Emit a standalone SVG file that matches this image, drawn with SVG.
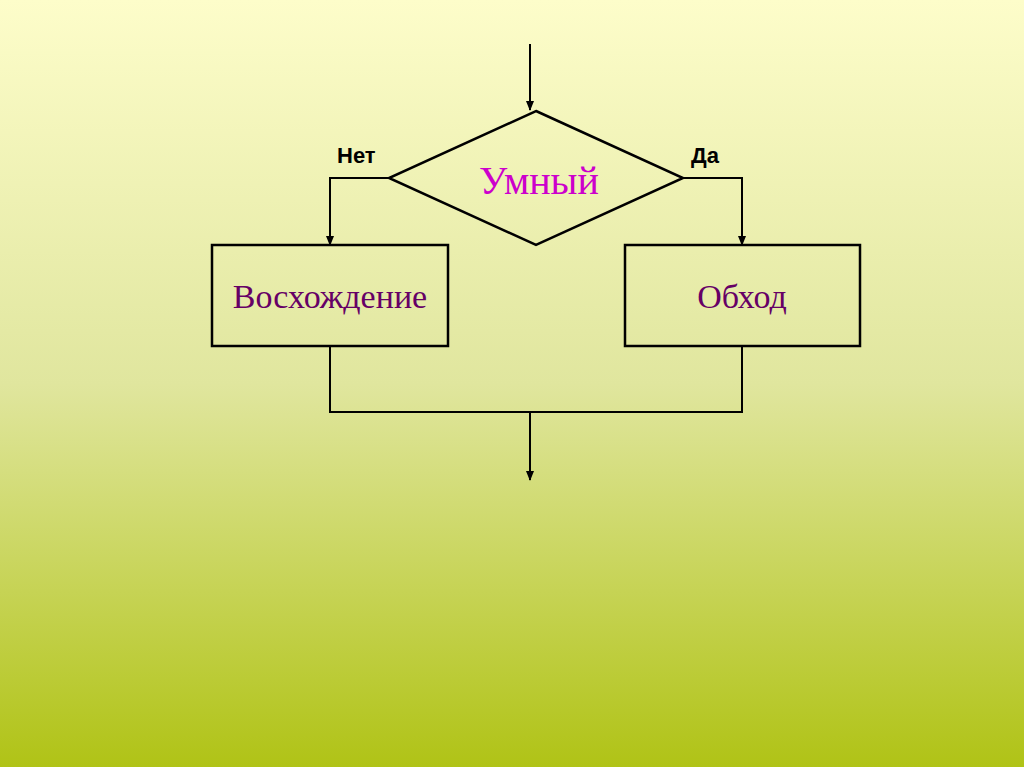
<svg xmlns="http://www.w3.org/2000/svg" width="1024" height="767" viewBox="0 0 1024 767">
<defs>
<linearGradient id="bg" x1="0" y1="0" x2="0" y2="1">
<stop offset="0" stop-color="#FDFDCA"/>
<stop offset="0.5" stop-color="#E0E69E"/>
<stop offset="1" stop-color="#B0C316"/>
</linearGradient>
<marker id="arr" markerWidth="10" markerHeight="10" refX="9" refY="5" orient="auto" markerUnits="userSpaceOnUse">
<path d="M0,1 L10,5 L0,9 Z" fill="#000"/>
</marker>
<style>
.shape{fill:none;stroke:#000;stroke-width:2.5}
.line{fill:none;stroke:#000;stroke-width:2}
.lbl{font-family:"Liberation Sans",Arial,sans-serif;font-weight:bold;font-size:22px;fill:#000}
.ser{font-family:"Liberation Serif","Times New Roman",serif;text-anchor:middle}
</style>
</defs>
<rect width="1024" height="767" fill="url(#bg)"/>
<g id="connectors">
<path class="line" d="M530,44 V110" marker-end="url(#arr)"/>
<path class="line" d="M389,178 H330 V245" marker-end="url(#arr)"/>
<path class="line" d="M683,178 H742 V245" marker-end="url(#arr)"/>
<path class="line" d="M330,346 V412 H742 V346"/>
<path class="line" d="M530,412 V480" marker-end="url(#arr)"/>
</g>
<g id="decision">
<polygon class="shape" points="536,111 683,178 536,245 389,178"/>
<text class="ser" x="539" y="194" font-size="40" fill="#CC00CC">Умный</text>
</g>
<g id="label-no"><text class="lbl" x="337" y="163">Нет</text></g>
<g id="label-yes"><text class="lbl" x="691" y="163">Да</text></g>
<g id="climb">
<rect class="shape" x="212" y="245" width="236" height="101"/>
<text class="ser" x="330" y="308" font-size="34" fill="#660066">Восхождение</text>
</g>
<g id="bypass">
<rect class="shape" x="625" y="245" width="235" height="101"/>
<text class="ser" x="742" y="308" font-size="34" fill="#660066">Обход</text>
</g>
</svg>
